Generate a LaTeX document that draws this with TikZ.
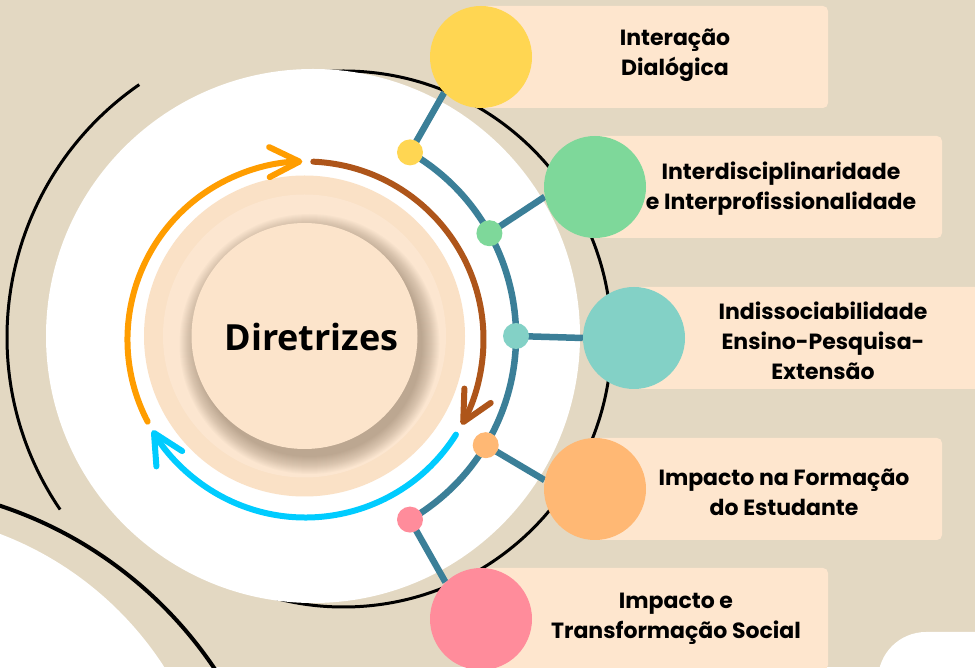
\documentclass[tikz,border=0pt]{standalone}
\usepackage{fontspec}
\newfontfamily\labfont{Poppins}
\newfontfamily\dirfont{Open Sans}
\usetikzlibrary{arrows.meta}
\definecolor{bgc}{HTML}{E3D8C2}
\definecolor{boxc}{HTML}{FEE6CE}
\definecolor{yellowc}{HTML}{FFD652}
\definecolor{greenc}{HTML}{7ED89A}
\definecolor{tealc}{HTML}{83D1C6}
\definecolor{orangec}{HTML}{FFB874}
\definecolor{pinkc}{HTML}{FF8C9B}
\definecolor{linkc}{HTML}{3B7F98}
\definecolor{orangea}{HTML}{FF9D00}
\definecolor{browna}{HTML}{AE551A}
\definecolor{cyana}{HTML}{00CCFF}
\definecolor{diskout}{HTML}{FAE1C6}
\definecolor{diskring}{HTML}{FCE6D0}
\definecolor{diskin}{HTML}{FCE4CB}
\definecolor{shadowc}{HTML}{7A6650}
\pgfdeclarelayer{background}
\pgfdeclarelayer{links}
\pgfsetlayers{background,links,main}
\begin{document}
\begin{tikzpicture}[x=1pt,y=1pt,
  lab/.style={font=\labfont\bfseries\fontsize{22}{30}\selectfont, align=center, text=black},
  box/.style={fill=boxc, rounded corners=5pt},
  big/.style={circle, minimum size=102pt, inner sep=0pt, fill=#1},
  dot/.style={circle, minimum size=26pt, inner sep=0pt, fill=#1},
  link/.style={draw=linkc, line width=6.5pt},
  cyc/.style={line width=6pt, line cap=round, draw=#1, -{Straight Barb[length=30pt,width=30pt,round]}},
  blk/.style={draw=black, line width=3pt}
]
\useasboundingbox (0,0) rectangle (975,667);
\begin{pgfonlayer}{background}
\fill[bgc] (0,0) rectangle (975,667);
% bottom-left decoration
\fill[white] (-120,-183) circle[radius=338pt];
\draw[black, line width=4pt] (-130,-233) circle[radius=415pt];
% bottom-right decoration
\fill[white, rounded corners=48pt] (878,-60) rectangle (1030,35);
% outline circles
\draw[blk] (343.5,328) circle[radius=268pt];
\draw[blk] ([shift={(124.7:307pt)}]314,330) arc[start angle=124.7, end angle=214.2, radius=307pt];
% main white disk
\fill[white] (313,331) circle[radius=267pt];
% peach disk
\coordinate (D) at (304.5,331);
\fill[diskout] (D) circle[radius=160.5pt];
\fill[diskring] (D) circle[radius=141.5pt];
\foreach \r in {113,...,130} \fill[shadowc, opacity=0.03] ([shift={(5,-8)}]D) circle[radius=\r pt];
\fill[diskin] (D) circle[radius=113pt];
% cycle arrows
\coordinate (A) at (305.5,327.5);
\draw[cyc=orangea] ([shift={(207.5:178pt)}]A) arc[start angle=207.5, end angle=91, radius=178pt];
\draw[cyc=browna] ([shift={(87.5:178pt)}]A) arc[start angle=87.5, end angle=-28.6, radius=178pt];
\draw[cyc=cyana] ([shift={(-32.3:178pt)}]A) arc[start angle=-32.3, end angle=-149.3, radius=178pt];
% label boxes
\fill[box] (481,559) rectangle (828,661);
\fill[box] (595,429) rectangle (942,531);
\fill[box] (634,278) rectangle (990,380);
\fill[box] (595,127) rectangle (942,229);
\fill[box] (481,-3) rectangle (828,99);
\end{pgfonlayer}

\node[font=\dirfont\bfseries\fontsize{36}{40}\selectfont, anchor=base] (dir) at (311.5,316) {Diretrizes};

\coordinate (O) at (304,331);
\node[dot=yellowc] (d1) at ([shift={(60:212pt)}]O) {};
\node[dot=greenc]  (d2) at ([shift={(29:212pt)}]O) {};
\node[dot=tealc]   (d3) at ([shift={(0:212pt)}]O) {};
\node[dot=orangec] (d4) at ([shift={(-31:212pt)}]O) {};
\node[dot=pinkc]   (d5) at ([shift={(-60:212pt)}]O) {};

\node[big=yellowc] (c1) at (481,610) {};
\node[big=greenc]  (c2) at (595,480) {};
\node[big=tealc]   (c3) at (634,329) {};
\node[big=orangec] (c4) at (595,178) {};
\node[big=pinkc]   (c5) at (481,48) {};

\begin{pgfonlayer}{links}
\draw[link] (d1.center) arc[start angle=60, end angle=-60, radius=212pt];
\draw[link] (d1.center) -- (c1.224);
\draw[link] (d2.center) -- (c2.191);
\draw[link] (d3.center) -- (c3.180);
\draw[link] (d4.center) -- (c4.170);
\draw[link] (d5.center) -- (c5.134);
\end{pgfonlayer}

\node[lab] (t1) at (675,612) {Interação\\Dialógica};
\node[lab] (t2) at (781,478) {Interdisciplinaridade\\e Interprofissionalidade};
\node[lab] (t3) at (823,326) {Indissociabilidade\\Ensino-Pesquisa-\\Extensão};
\node[lab] (t4) at (784,175) {Impacto na Formação\\do Estudante};
\node[lab] (t5) at (676,48) {Impacto e\\Transformação Social};
\end{tikzpicture}
\end{document}
